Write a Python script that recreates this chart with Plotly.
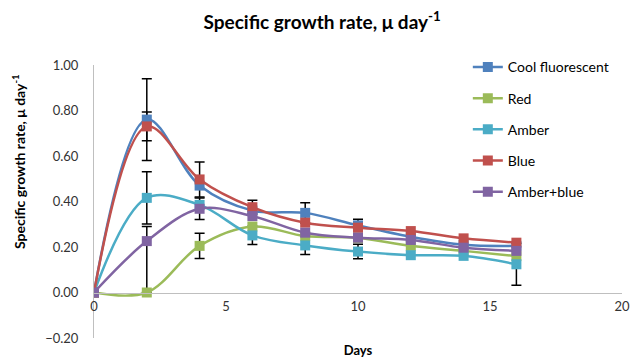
import plotly.graph_objects as go

# ---- data ----
days = [0, 2, 4, 6, 8, 10, 12, 14, 16]
series_names = ["Cool fluorescent", "Red", "Amber", "Blue", "Amber+blue"]
cool_fluorescent = [0.0, 0.76, 0.47, 0.36, 0.35, 0.295, 0.245, 0.21, 0.205]
red_light = [0.0, 0.0, 0.205, 0.29, 0.248, 0.24, 0.205, 0.183, 0.16]
amber_light = [0.0, 0.416, 0.385, 0.251, 0.207, 0.18, 0.164, 0.161, 0.124]
blue_light = [0.0, 0.73, 0.497, 0.375, 0.307, 0.285, 0.27, 0.238, 0.219]
amber_blue_light = [0.0, 0.226, 0.368, 0.336, 0.263, 0.241, 0.231, 0.197, 0.183]

# error bars (plus / minus), None = no error bar shown
cool_err_plus = [None, 0.18, None, None, 0.045, 0.027, None, None, None]
cool_err_minus = [None, 0.18, None, None, 0.045, 0.027, None, None, None]
red_err_plus = [None, 0.29, 0.055, None, None, None, None, None, None]
red_err_minus = [None, 0.0, 0.055, None, None, None, None, None, None]
amber_err_plus = [None, 0.115, None, 0.04, 0.04, 0.032, None, None, 0.092]
amber_err_minus = [None, 0.115, None, 0.04, 0.04, 0.032, None, None, 0.092]
blue_err_plus = [None, 0.063, 0.077, 0.03, None, None, None, None, None]
blue_err_minus = [None, 0.063, 0.077, 0.03, None, None, None, None, None]
amber_blue_err_plus = [None, None, 0.047, None, None, None, None, None, None]
amber_blue_err_minus = [None, None, 0.047, None, None, None, None, None, None]

colors = ["#4F81BD", "#9BBB59", "#4BACC6", "#C0504D", "#8064A2"]
values = [cool_fluorescent, red_light, amber_light, blue_light, amber_blue_light]
errs = [(cool_err_plus, cool_err_minus), (red_err_plus, red_err_minus),
        (amber_err_plus, amber_err_minus), (blue_err_plus, blue_err_minus),
        (amber_blue_err_plus, amber_blue_err_minus)]

FONT = "Lato"
fig = go.Figure()

# error bars first (underneath series)
for vals, (ep, em) in zip(values, errs):
    idx = [i for i, e in enumerate(ep) if e is not None]
    if not idx:
        continue
    fig.add_trace(go.Scatter(
        x=[days[i] for i in idx], y=[vals[i] for i in idx],
        mode="markers", marker=dict(size=1, opacity=0),
        error_y=dict(type="data", symmetric=False,
                     array=[ep[i] for i in idx], arrayminus=[em[i] for i in idx],
                     color="black", thickness=1.5, width=5),
        showlegend=False, hoverinfo="skip"))

for name, vals, col in zip(series_names, values, colors):
    fig.add_trace(go.Scatter(
        x=days, y=vals, name=name, legendgroup=name,
        mode="lines+markers",
        line=dict(color=col, width=2.5, shape="spline", smoothing=1),
        marker=dict(symbol="square", size=10, color=col)))

# page body has an 8px margin: figure is shrunk so the plot lands where the reference has it
fig.update_layout(
    width=632, height=353,
    margin=dict(l=86, r=18, t=57, b=23),
    paper_bgcolor="white", plot_bgcolor="white",
    font=dict(family=FONT, size=12, color="#333333"),
    title=dict(text="<b>Specific growth rate, μ day<sup>-1</sup></b>",
               x=0.497, xanchor="center", y=0.958, yanchor="middle",
               font=dict(family=FONT, size=19, color="black")),
    legend=dict(x=0.708, y=1.05, xanchor="left", yanchor="top",
                font=dict(family=FONT, size=14, color="black"),
                tracegroupgap=10, bgcolor="rgba(0,0,0,0)"),
    showlegend=True,
)
fig.update_xaxes(
    range=[0, 20], dtick=5, showgrid=False, zeroline=False,
    showline=True, linecolor="#BFBFBF", linewidth=1,
    anchor="free", position=0.2 / 1.2, ticklabelstandoff=2,
    tickfont=dict(family=FONT, size=13, color="#333333"),
    title=dict(text="<b>Days</b>", standoff=32,
               font=dict(family=FONT, size=13, color="black")),
    automargin=False)
fig.update_yaxes(
    range=[-0.2, 1.0], dtick=0.2, tickformat=".2f", showgrid=False,
    zeroline=False, showline=True, linecolor="#BFBFBF", linewidth=1,
    ticklabelstandoff=12,
    tickfont=dict(family=FONT, size=13, color="#333333"),
    automargin=False)
fig.add_annotation(
    text="<b>Specific growth rate, μ day<sup>-1</sup></b>",
    textangle=-90, xref="paper", yref="paper",
    x=-0.144, y=0.648, xanchor="center", yanchor="middle", showarrow=False,
    font=dict(family=FONT, size=14, color="black"))

fig.write_html("out.html")
